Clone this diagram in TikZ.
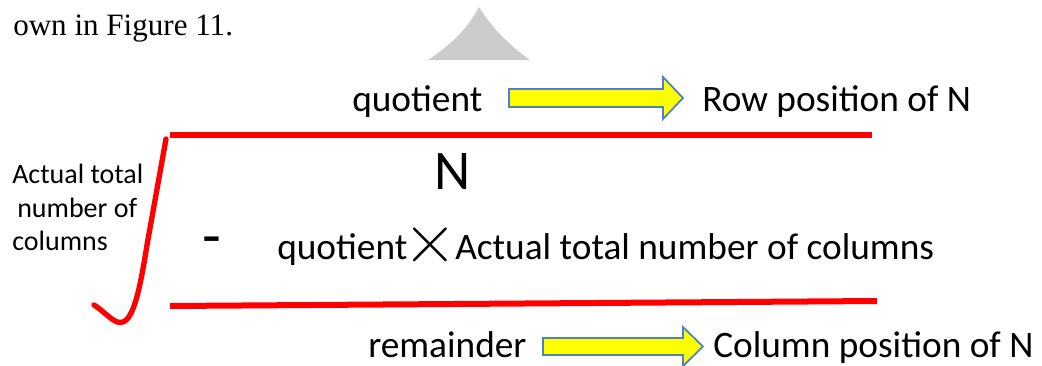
\documentclass[tikz,border=0pt]{standalone}
\usepackage{fontspec}
\newfontfamily\calibri{Carlito}
\newfontfamily\serifdoc{Liberation Serif}
\definecolor{radred}{RGB}{255,0,0}
\definecolor{arrowyellow}{RGB}{255,255,0}
\definecolor{arrowblue}{RGB}{79,129,189}
\definecolor{shapegray}{RGB}{204,204,204}
\begin{document}
\begin{tikzpicture}[x=0.75pt,y=-0.75pt,
  maintext/.style={inner sep=0pt,anchor=base west,font=\calibri\fontsize{28pt}{30pt}\selectfont},
  sidetext/.style={inner sep=0pt,anchor=base west,font=\calibri\fontsize{21pt}{23pt}\selectfont},
  redline/.style={draw=radred,line width=4.5pt},
  bigarrow/.style={draw=arrowblue,fill=arrowyellow,line width=1.3pt,line join=miter}]
\useasboundingbox (0,0) rectangle (1042,365);
% top fragment of the page
\node[inner sep=0pt,anchor=base west,font=\serifdoc\fontsize{23.3pt}{25pt}\selectfont] (fig) at (13,35) {own in Figure 11.};
\fill[shapegray] (428,60) .. controls (452,44) and (468,28) .. (479,7)
  .. controls (492,28) and (508,44) .. (530,60) -- cycle;
% radical sign
\coordinate (radtail) at (94,305);
\coordinate (radtop) at (166,139);
\draw[draw=radred,line width=4pt,line cap=round] (radtail) .. controls (108,314) and (116,327) .. (125,321)
  .. controls (135,314) and (141,283) .. (147,245) -- (radtop);
\coordinate (topL) at (170,135);
\coordinate (topR) at (872,135);
\draw[redline] (topL) -- (topR);
\coordinate (botL) at (170,306);
\coordinate (botR) at (877,301);
\draw[redline] (botL) -- (botR);
% left label
\node[sidetext] (lab1) at (12,183) {Actual total};
\node[sidetext] (lab2) at (17,217) {number of};
\node[sidetext] (lab3) at (12,250) {columns};
% top row
\node[maintext] (q1) at (352,111) {quotient};
\node[maintext] (row) at (702,111) {Row position of N};
\draw[bigarrow] (509,89) -- (663,89) -- (663,77) -- (683,98) -- (663,119) -- (663,107) -- (509,107) -- cycle;
% dividend
\node[inner sep=0pt,font=\calibri\fontsize{42pt}{44pt}\selectfont] (N) at (453,172) {N};
\node[inner sep=0pt,font=\calibri\fontsize{46pt}{48pt}\selectfont] (minus) at (212,247) {-};
\node[maintext] (q2) at (277,259) {quotient};
\node[inner sep=0pt,font=\fontsize{56pt}{58pt}\selectfont] (times) at (430,245) {×};
\node[maintext] (act) at (455,259) {Actual total number of columns};
% bottom row
\node[maintext] (rem) at (368,357) {remainder};
\node[maintext] (col) at (713,357) {Column position of N};
\draw[bigarrow] (543,338) -- (683,338) -- (683,327) -- (703,346.5) -- (683,366) -- (683,355) -- (543,355) -- cycle;
\end{tikzpicture}
\end{document}
